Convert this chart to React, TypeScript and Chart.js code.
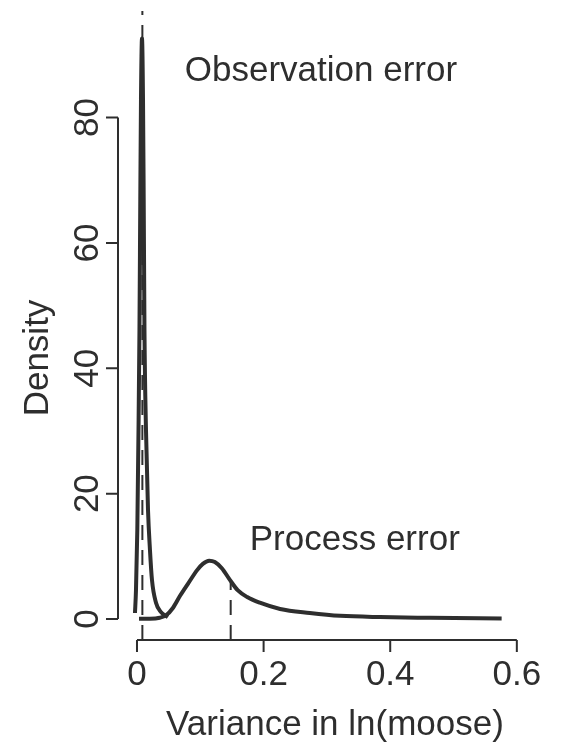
import React, { useEffect, useRef } from "react";
import { Chart, registerables } from "chart.js";

Chart.register(...registerables);

// Observation error posterior density
const obsX = [-0.0032, -0.0016, 0.0005, 0.0024, 0.0039, 0.0052, 0.0063, 0.0079, 0.0095, 0.0106, 0.0118, 0.0142, 0.0174, 0.0205, 0.0237, 0.03, 0.0379, 0.0489];
const obsY = [0.96, 4.6, 14.2, 30.2, 46.1, 66.9, 82.9, 92.6, 82.9, 66.9, 46.1, 30.2, 17.4, 11.0, 6.2, 2.6, 1.1, 0.3];

// Process error posterior density
const procX = [0.0032, 0.0205, 0.036, 0.046, 0.057, 0.068, 0.081, 0.095, 0.104, 0.114, 0.123, 0.134, 0.147, 0.159, 0.174, 0.194, 0.226, 0.273, 0.321, 0.384, 0.463, 0.576];
const procY = [0.05, 0.05, 0.2, 0.6, 1.8, 3.7, 5.7, 7.8, 8.8, 9.3, 9.1, 8.1, 6.2, 4.6, 3.5, 2.6, 1.6, 0.96, 0.5, 0.3, 0.2, 0.1];

// Dashed reference lines (x position, y from, y to)
const obsMeanX = 0.0085;
const obsMeanY = [-3.35, 97];
const procMeanX = 0.148;
const procMeanY = [-3.35, 6.1];

const xTicks = [0, 0.2, 0.4, 0.6];
const xTickLabels = ["0", "0.2", "0.4", "0.6"];
const yTicks = [0, 20, 40, 60, 80];
const yTickLabels = ["0", "20", "40", "60", "80"];

const textLabels = ["Observation error", "Process error"];
const textX = [0.2905, 0.344];
const textY = [85.9, 11.0];

const xTitle = "Variance in ln(moose)";
const yTitle = "Density";

const INK = "#2e2e2e";
const FONT = '35px "Liberation Sans", Arial, sans-serif';

const rAxesPlugin = {
  id: "rAxes",
  afterDatasetsDraw(chart: any) {
    const { ctx, chartArea, scales } = chart;
    const xs = scales.x;
    const ys = scales.y;
    ctx.save();
    ctx.strokeStyle = INK;
    ctx.fillStyle = INK;
    ctx.lineWidth = 2;
    ctx.font = FONT;

    // x axis
    const bx = chartArea.bottom;
    ctx.beginPath();
    ctx.moveTo(xs.getPixelForValue(xTicks[0]), bx);
    ctx.lineTo(xs.getPixelForValue(xTicks[xTicks.length - 1]), bx);
    xTicks.forEach((t) => {
      const px = xs.getPixelForValue(t);
      ctx.moveTo(px, bx);
      ctx.lineTo(px, bx + 12);
    });
    ctx.stroke();
    ctx.textAlign = "center";
    ctx.textBaseline = "alphabetic";
    xTicks.forEach((t, i) => {
      ctx.fillText(xTickLabels[i], xs.getPixelForValue(t), bx + 45);
    });

    // y axis
    const lx = chartArea.left;
    ctx.beginPath();
    ctx.moveTo(lx, ys.getPixelForValue(yTicks[0]));
    ctx.lineTo(lx, ys.getPixelForValue(yTicks[yTicks.length - 1]));
    yTicks.forEach((t) => {
      const py = ys.getPixelForValue(t);
      ctx.moveTo(lx, py);
      ctx.lineTo(lx - 12, py);
    });
    ctx.stroke();
    yTicks.forEach((t, i) => {
      ctx.save();
      ctx.translate(lx - 20, ys.getPixelForValue(t));
      ctx.rotate(-Math.PI / 2);
      ctx.textAlign = "center";
      ctx.fillText(yTickLabels[i], 0, 0);
      ctx.restore();
    });

    // titles
    ctx.textAlign = "center";
    ctx.fillText(xTitle, 327, chart.height - 13);
    ctx.save();
    ctx.translate(40, 350);
    ctx.rotate(-Math.PI / 2);
    ctx.fillText(yTitle, 0, 0);
    ctx.restore();

    // in-plot labels
    textLabels.forEach((s, i) => {
      ctx.fillText(s, xs.getPixelForValue(textX[i]), ys.getPixelForValue(textY[i]));
    });
    ctx.restore();
  },
};

export default function App() {
  const ref = useRef<HTMLCanvasElement | null>(null);
  useEffect(() => {
    if (!ref.current) return;
    const chart = new Chart(ref.current, {
      type: "line",
      data: {
        datasets: [
          {
            label: "Observation error",
            data: obsX.map((x, i) => ({ x, y: obsY[i] })),
            borderColor: INK,
            borderWidth: 4,
            pointRadius: 0,
            cubicInterpolationMode: "monotone",
            fill: false,
          },
          {
            label: "Process error",
            data: procX.map((x, i) => ({ x, y: procY[i] })),
            borderColor: INK,
            borderWidth: 4,
            pointRadius: 0,
            cubicInterpolationMode: "monotone",
            fill: false,
          },
          {
            label: "obs mean",
            data: obsMeanY.map((y) => ({ x: obsMeanX, y })),
            borderColor: INK,
            borderWidth: 2,
            borderDash: [15, 10],
            pointRadius: 0,
            fill: false,
          },
          {
            label: "proc mean",
            data: procMeanY.map((y) => ({ x: procMeanX, y })),
            borderColor: INK,
            borderWidth: 2,
            borderDash: [15, 10],
            pointRadius: 0,
            fill: false,
          },
        ],
      },
      options: {
        animation: false,
        responsive: true,
        maintainAspectRatio: false,
        layout: { padding: { left: 110, right: 34, top: 3, bottom: 108 } },
        plugins: { legend: { display: false }, tooltip: { enabled: false } },
        scales: {
          x: { type: "linear", min: -0.03, max: 0.605, display: false },
          y: { type: "linear", min: -3.35, max: 97, display: false },
        },
      },
      plugins: [rAxesPlugin],
    });
    return () => chart.destroy();
  }, []);
  return (
    <div style={{ width: 546, height: 740, background: "#fff" }}>
      <canvas ref={ref} />
    </div>
  );
}
